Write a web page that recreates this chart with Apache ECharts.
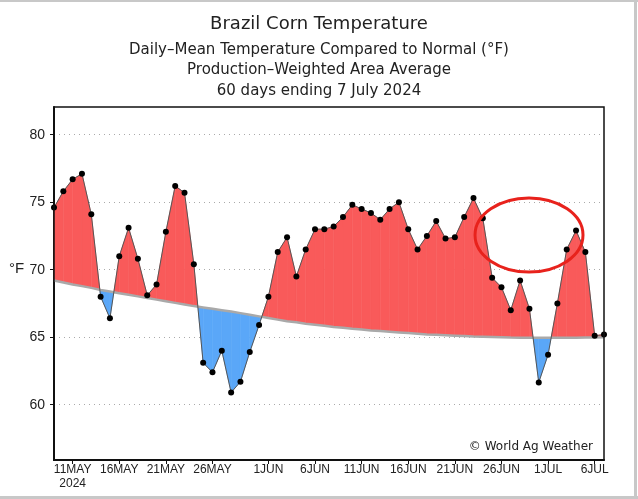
<!DOCTYPE html>
<html>
<head>
<meta charset="utf-8">
<script src="https://cdn.jsdelivr.net/npm/echarts@6/dist/echarts.min.js"></script>
<style>
html,body{margin:0;padding:0;background:#fff;}
#chart{width:638px;height:499px;}
</style>
</head>
<body>
<div id="chart"></div>
<script>
// ---- data ----
const dates = [
  '9MAY','10MAY','11MAY','12MAY','13MAY','14MAY','15MAY','16MAY','17MAY','18MAY',
  '19MAY','20MAY','21MAY','22MAY','23MAY','24MAY','25MAY','26MAY','27MAY','28MAY',
  '29MAY','30MAY','31MAY','1JUN','2JUN','3JUN','4JUN','5JUN','6JUN','7JUN',
  '8JUN','9JUN','10JUN','11JUN','12JUN','13JUN','14JUN','15JUN','16JUN','17JUN',
  '18JUN','19JUN','20JUN','21JUN','22JUN','23JUN','24JUN','25JUN','26JUN','27JUN',
  '28JUN','29JUN','30JUN','1JUL','2JUL','3JUL','4JUL','5JUL','6JUL','7JUL'
];
const temperature = [
  74.6, 75.8, 76.7, 77.1, 74.1, 68.0, 66.4, 71.0, 73.1, 70.8,
  68.1, 68.9, 72.8, 76.2, 75.7, 70.4, 63.1, 62.4, 64.0, 60.9,
  61.7, 63.9, 65.9, 68.0, 71.3, 72.4, 69.5, 71.5, 73.0, 73.0,
  73.2, 73.9, 74.8, 74.5, 74.2, 73.7, 74.5, 75.0, 73.0, 71.5,
  72.5, 73.6, 72.3, 72.4, 73.9, 75.3, 73.8, 69.4, 68.7, 67.0,
  69.2, 67.1, 61.65, 63.7, 67.5, 71.5, 72.9, 71.3, 65.1, 65.2
];
const normal = [
  69.2, 69.05, 68.9, 68.78, 68.65, 68.5, 68.38, 68.26, 68.14, 68.02,
  67.9, 67.78, 67.66, 67.54, 67.42, 67.3, 67.2, 67.1, 67.0, 66.9,
  66.78, 66.66, 66.54, 66.42, 66.3, 66.18, 66.1, 66.0, 65.92, 65.84,
  65.76, 65.7, 65.63, 65.57, 65.5, 65.45, 65.4, 65.35, 65.3, 65.25,
  65.2, 65.17, 65.14, 65.11, 65.08, 65.05, 65.03, 65.01, 64.99, 64.97,
  64.96, 64.95, 64.95, 64.95, 64.95, 64.95, 64.96, 64.97, 64.98, 65.0
];
const tickLabels = ['11MAY\n2024','16MAY','21MAY','26MAY','1JUN','6JUN','11JUN','16JUN','21JUN','26JUN','1JUL','6JUL'];

// ---- derived ----
const tickIdx = tickLabels.map(l => dates.indexOf(l.split('\n')[0]));
const labelByIdx = {};
tickIdx.forEach((k, j) => { labelByIdx[k] = tickLabels[j]; });
const segments = [];
for (let i = 0; i < temperature.length - 1; i++) {
  segments.push([i, temperature[i], temperature[i + 1], normal[i], normal[i + 1]]);
}
const tempPts = temperature.map((v, i) => [i, v]);
const normPts = normal.map((v, i) => [i, v]);

const RED = '#f95a5a', BLUE = '#5aa7f8';

const chart = echarts.init(document.getElementById('chart'), null, {renderer: 'canvas'});
chart.setOption({
  backgroundColor: '#fff',
  animation: false,
  title: [
    {text: 'Brazil Corn Temperature', left: 'center', top: 10,
     textStyle: {fontFamily: 'DejaVu Sans', fontSize: 18, fontWeight: 'normal', color: '#222'}},
    {text: 'Daily–Mean Temperature Compared to Normal (°F)', left: 'center', top: 38,
     textStyle: {fontFamily: 'DejaVu Sans', fontSize: 15, fontWeight: 'normal', color: '#222'}},
    {text: 'Production–Weighted Area Average', left: 'center', top: 58,
     textStyle: {fontFamily: 'DejaVu Sans', fontSize: 15, fontWeight: 'normal', color: '#222'}},
    {text: '60 days ending 7 July 2024', left: 'center', top: 79,
     textStyle: {fontFamily: 'DejaVu Sans', fontSize: 15, fontWeight: 'normal', color: '#222'}}
  ],
  grid: {left: 54, right: 34, top: 107, bottom: 39, show: false},
  xAxis: {
    type: 'value', min: 0, max: temperature.length - 1,
    axisLine: {show: true, lineStyle: {color: '#111', width: 2}},
    axisTick: {show: true, customValues: tickIdx, length: 4, lineStyle: {color: '#111'}},
    axisLabel: {customValues: tickIdx, formatter: v => labelByIdx[v] || '', margin: 3,
      fontFamily: 'Liberation Sans Narrow, Liberation Sans', fontSize: 12, lineHeight: 14, color: '#222'},
    splitLine: {show: false}
  },
  yAxis: {
    type: 'value', min: 55.9, max: 82.05, splitNumber: 5,
    axisLine: {show: true, lineStyle: {color: '#111', width: 2}},
    axisTick: {show: true, length: 4, lineStyle: {color: '#111'}},
    axisLabel: {showMinLabel: false, showMaxLabel: false, margin: 9,
      fontFamily: 'Liberation Sans', fontSize: 14, color: '#222'},
    splitLine: {show: true, showMinLine: false, showMaxLine: false, lineStyle: {color: '#aaa', type: [1, 4], width: 1}}
  },
  series: [
    {
      type: 'custom', z: 1, data: segments,
      encode: {x: 0, y: 1},
      renderItem: function (params, api) {
        const i = api.value(0), t0 = api.value(1), t1 = api.value(2), n0 = api.value(3), n1 = api.value(4);
        const d0 = t0 - n0, d1 = t1 - n1;
        const children = [];
        const poly = (pts, col) => children.push({
          type: 'polygon', shape: {points: pts.map(p => api.coord(p))},
          style: {fill: col, stroke: col, lineWidth: 0.6}
        });
        if (d0 * d1 >= 0) {
          poly([[i, t0], [i + 1, t1], [i + 1, n1], [i, n0]], (d0 + d1) >= 0 ? RED : BLUE);
        } else {
          const f = d0 / (d0 - d1);
          const xc = i + f, yc = n0 + f * (n1 - n0);
          poly([[i, t0], [xc, yc], [i, n0]], d0 > 0 ? RED : BLUE);
          poly([[xc, yc], [i + 1, t1], [i + 1, n1]], d1 > 0 ? RED : BLUE);
        }
        return {type: 'group', children: children};
      }
    },
    {
      type: 'line', z: 2, data: normPts, showSymbol: false, symbol: 'none',
      lineStyle: {color: '#a9a9a9', width: 2.5}
    },
    {
      type: 'line', z: 3, data: tempPts, symbol: 'circle', symbolSize: 6,
      itemStyle: {color: '#000'},
      lineStyle: {color: '#555', width: 1}
    }
  ],
  graphic: [
    {type: 'text', left: 9, top: 261, style: {text: '°F', fontFamily: 'Liberation Sans', fontSize: 15, fill: '#222'}},
    {type: 'text', right: 45, top: 441, style: {text: '© World Ag Weather', fontFamily: 'DejaVu Sans', fontSize: 12, fill: '#222'}, z: 10},
    {type: 'rect', shape: {x: 54, y: 107, width: 550, height: 353}, style: {fill: null, stroke: '#111', lineWidth: 1.5}, z: 15},
    {type: 'ellipse', shape: {cx: 529, cy: 235, rx: 54, ry: 37}, style: {fill: null, stroke: '#e8221c', lineWidth: 3}, z: 20},
    {type: 'rect', shape: {x: 0, y: 0, width: 638, height: 2}, style: {fill: '#c8c8c8'}, z: 30},
    {type: 'rect', shape: {x: 634, y: 0, width: 3, height: 499}, style: {fill: '#c8c8c8'}, z: 30},
    {type: 'rect', shape: {x: 0, y: 496, width: 638, height: 3}, style: {fill: '#c8c8c8'}, z: 30}
  ]
});
</script>
</body>
</html>
